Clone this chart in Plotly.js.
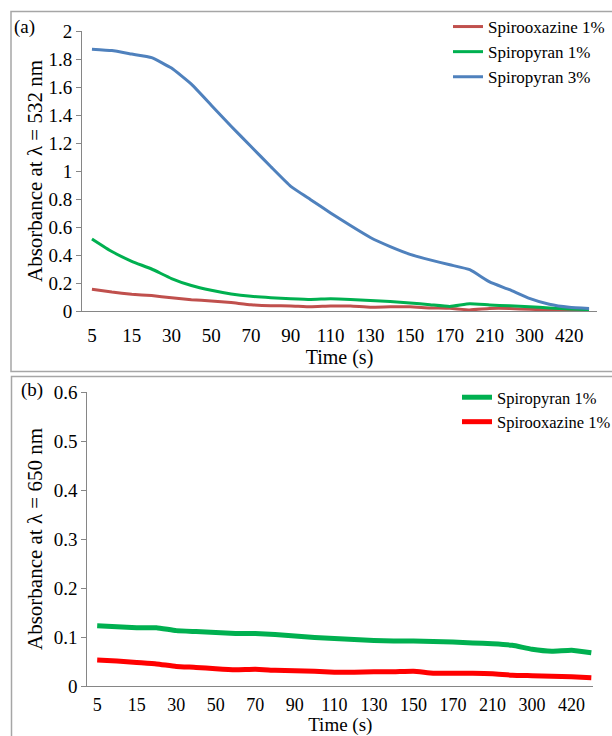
<!DOCTYPE html>
<html>
<head>
<meta charset="utf-8">
<script src="https://cdn.plot.ly/plotly-3.0.1.min.js"></script>
<style>html,body{margin:0;padding:0;background:#fff;}#chart{width:612px;height:736px;}</style>
</head>
<body>
<div id="chart"></div>
<script>
// Time categories (s)
const times = ["5","10","15","20","30","40","50","60","70","80","90","100","110","120","130","140","150","160","170","180","210","240","300","360","420","480"];
const tickLabels = ["5","15","30","50","70","90","110","130","150","170","210","300","420"];

// Panel (a): absorbance at 532 nm
const a_spirooxazine1 = [0.155,0.135,0.12,0.11,0.095,0.081,0.072,0.06,0.045,0.038,0.036,0.03,0.036,0.035,0.027,0.03,0.03,0.022,0.019,0.008,0.018,0.018,0.012,0.008,0.005,0.004];
const a_spiropyran1 = [0.515,0.425,0.355,0.30,0.232,0.182,0.148,0.122,0.105,0.095,0.088,0.083,0.087,0.083,0.075,0.068,0.058,0.045,0.032,0.052,0.043,0.037,0.03,0.022,0.014,0.01];
const a_spiropyran3 = [1.87,1.86,1.835,1.81,1.735,1.62,1.47,1.32,1.175,1.03,0.89,0.795,0.70,0.61,0.525,0.46,0.405,0.365,0.33,0.295,0.208,0.152,0.09,0.048,0.026,0.017];

// Panel (b): absorbance at 650 nm
const b_spiropyran1 = [0.123,0.121,0.119,0.119,0.113,0.111,0.109,0.107,0.107,0.105,0.102,0.099,0.097,0.095,0.093,0.092,0.092,0.091,0.09,0.088,0.086,0.083,0.075,0.071,0.073,0.068];
const b_spirooxazine1 = [0.053,0.051,0.048,0.045,0.04,0.038,0.035,0.033,0.034,0.032,0.031,0.03,0.028,0.028,0.029,0.029,0.03,0.026,0.026,0.026,0.025,0.022,0.021,0.02,0.019,0.017];

const W = 612, H = 736;
const px = v => v / W;
const py = v => 1 - v / H;
const FONT = "Liberation Serif";
const AX = "#868686";

const line = (x, y, name, color, width, xa, ya, leg) => ({
  type: "scatter", mode: "lines", x: x, y: y, name: name,
  xaxis: xa, yaxis: ya, legend: leg,
  line: {color: color, width: width, shape: "spline", smoothing: 0.4}
});

const data = [
  line(times, a_spirooxazine1, "Spirooxazine 1%", "#C0504D", 3, "x", "y", "legend"),
  line(times, a_spiropyran1, "Spiropyran 1%", "#00B050", 3, "x", "y", "legend"),
  line(times, a_spiropyran3, "Spiropyran 3%", "#4F81BD", 3, "x", "y", "legend"),
  line(times, b_spiropyran1, "Spiropyran 1%", "#00B050", 5, "x2", "y2", "legend2"),
  line(times, b_spirooxazine1, "Spirooxazine 1%", "#FF0000", 5, "x2", "y2", "legend2")
];

const xBase = {
  type: "category", categoryorder: "array", categoryarray: times,
  tickmode: "array", tickvals: tickLabels, ticktext: tickLabels,
  showline: true, linecolor: AX, linewidth: 1, ticks: "", showgrid: false, zeroline: false,
  tickfont: {family: FONT, size: 19, color: "#000"},
  fixedrange: true, automargin: false
};
const yBase = {
  showline: true, linecolor: AX, linewidth: 1, ticks: "outside", ticklen: 5, tickcolor: AX,
  showgrid: false, zeroline: false,
  tickfont: {family: FONT, size: 19, color: "#000"}, fixedrange: true, automargin: false
};

const layout = {
  width: W, height: H, margin: {l: 0, r: 0, t: 0, b: 0, autoexpand: false},
  paper_bgcolor: "#fff", plot_bgcolor: "#fff",
  font: {family: FONT, color: "#000"},
  xaxis: Object.assign({}, xBase, {domain: [px(82), px(597)], anchor: "y", range: [-0.5, 25.4],
    ticklabelstandoff: 7,
    title: {text: "Time (s)", font: {family: FONT, size: 20, color: "#000"}, standoff: 2}}),
  yaxis: Object.assign({}, yBase, {domain: [py(311), py(31)], anchor: "x", range: [0, 2], dtick: 0.2,
    title: {text: "Absorbance at λ = 532 nm", font: {family: FONT, size: 21, color: "#000"}, standoff: 0}}),
  xaxis2: Object.assign({}, xBase, {domain: [px(87.3), px(593.3)], anchor: "y2", range: [-0.5, 25.1],
    ticklabelstandoff: 2, tickfont: {family: FONT, size: 18, color: "#000"},
    title: {text: "Time (s)", font: {family: FONT, size: 19, color: "#000"}, standoff: 9}}),
  yaxis2: Object.assign({}, yBase, {domain: [py(686), py(392)], anchor: "x2", range: [0, 0.6], dtick: 0.1,
    title: {text: "Absorbance at λ = 650 nm", font: {family: FONT, size: 21, color: "#000"}, standoff: 5}}),
  showlegend: true,
  legend: {x: px(448), xanchor: "left", y: py(9), yanchor: "top", bgcolor: "rgba(0,0,0,0)",
    font: {family: FONT, size: 17, color: "#000"}, tracegroupgap: 0, itemwidth: 30},
  legend2: {x: px(457), xanchor: "left", y: py(380), yanchor: "top", bgcolor: "rgba(0,0,0,0)",
    font: {family: FONT, size: 16.5, color: "#000"}, tracegroupgap: 0, itemwidth: 30},
  shapes: [
    {type: "rect", xref: "paper", yref: "paper", x0: px(11), x1: px(640), y0: py(371.5), y1: py(11.5),
      line: {color: "#a6a6a6", width: 1.5}},
    {type: "rect", xref: "paper", yref: "paper", x0: px(11.5), x1: px(640), y0: py(760), y1: py(376.5),
      line: {color: "#a6a6a6", width: 1.5}}
  ],
  annotations: [
    {text: "(a)", xref: "paper", yref: "paper", x: px(12), y: py(27), xanchor: "left", yanchor: "middle",
      showarrow: false, font: {family: FONT, size: 19, color: "#000"}},
    {text: "(b)", xref: "paper", yref: "paper", x: px(19), y: py(390), xanchor: "left", yanchor: "middle",
      showarrow: false, font: {family: FONT, size: 19, color: "#000"}}
  ]
};

Plotly.newPlot("chart", data, layout, {displayModeBar: false, staticPlot: true});
</script>
</body>
</html>
